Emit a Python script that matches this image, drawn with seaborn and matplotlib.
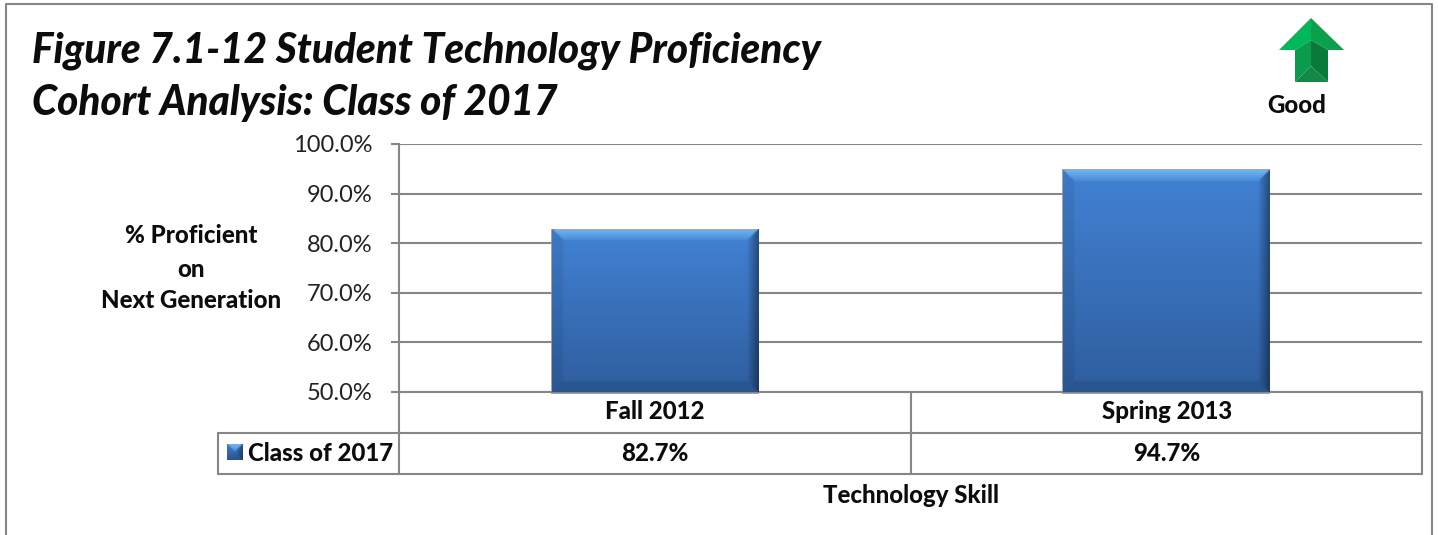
import numpy as np
import pandas as pd
import matplotlib
matplotlib.use("Agg")
import matplotlib.pyplot as plt
from matplotlib.patches import Polygon, Rectangle
import seaborn as sns

# Chart data
terms = ["Fall 2012", "Spring 2013"]
proficiency = [82.7, 94.7]
series_name = "Class of 2017"
y_ticks = [50, 60, 70, 80, 90, 100]
title_lines = ["Figure 7.1-12 Student Technology Proficiency", "Cohort Analysis: Class of 2017"]
y_label_lines = ["% Proficient", "on", "Next Generation"]
x_label = "Technology Skill"
badge_label = "Good"

W, H = 1438, 535
GRAY = "#868686"
INK = "#0c0c0c"
LABEL_SIZE = 17.3
sns.set_theme(style="white")
plt.rcParams["font.family"] = ["Lato", "DejaVu Sans"]

fig = plt.figure(figsize=(W / 100, H / 100), dpi=100, facecolor="white")

# Overlay in pixel coordinates for the frame, the data table and the badge
page = fig.add_axes([0, 0, 1, 1], zorder=3)
page.set_xlim(0, W)
page.set_ylim(H, 0)
page.axis("off")
page.patch.set_alpha(0)

L, R, T, B = 399, 1422, 144, 392
ax = fig.add_axes([L / W, 1 - B / H, (R - L) / W, (B - T) / H], zorder=2)

df = pd.DataFrame({"term": terms, "value": proficiency})
sns.barplot(data=df, x="term", y="value", ax=ax, width=0.403, color="#3f7bc8",
            saturation=1, zorder=3, edgecolor="none")
ax.set_xlim(-0.5, 1.5)
ax.set_ylim(50, 100)
ax.set_xlabel("")
ax.set_ylabel("")
ax.set_xticks([])
ax.set_yticks(y_ticks)
ax.set_yticklabels([f"{t:.1f}%" for t in y_ticks], fontsize=17, color="#222222")
ax.tick_params(axis="y", length=6, width=1.5, color=GRAY, pad=13, left=True)
ax.grid(axis="y", color=GRAY, lw=1.5, zorder=0)
ax.set_axisbelow(True)
for s in ["top", "right"]:
    ax.spines[s].set_visible(False)
for s in ["left", "bottom"]:
    ax.spines[s].set_color(GRAY)
    ax.spines[s].set_linewidth(1.5)


def soften(img, n=1):
    """Box-blur an RGB array a few times along both axes."""
    out = img.copy()
    kernel = np.array([0.25, 0.5, 0.25])
    for _ in range(n):
        for axis in (0, 1):
            out = np.apply_along_axis(
                lambda v: np.convolve(np.pad(v, 1, mode="edge"), kernel, mode="valid"), axis, out)
    return out


def bevel_image(h, w, b=11):
    """Pixel array of a bevelled blue block, h by w pixels with a b pixel rim."""
    yy, xx = np.mgrid[0:h, 0:w]
    t = (yy / max(h - 1, 1))[..., None]
    top_c, bot_c = np.array([66, 130, 212.]), np.array([46, 94, 158.])
    img = top_c * (1 - t) + bot_c * t
    dl, dr, dt, db = xx, w - 1 - xx, yy, h - 1 - yy
    dist = np.minimum.reduce([dl, dr, dt, db])
    rim = dist < b
    left = rim & (dl == dist)
    img[left] = img[left] * 0.93
    right = rim & (dr == dist)
    shade = 0.6 + 0.38 * (dr / b)
    img[right] = (img * shade[..., None])[right]
    bottom = rim & (db == dist) & ~right & ~left
    img[bottom] = img[bottom] * 0.9
    top = rim & (dt == dist) & ~left & ~right
    pale, deep = np.array([112, 180, 244.]), np.array([70, 136, 216.])
    img[top] = (pale + (deep - pale) * np.clip(dt / b, 0, 1)[..., None])[top]
    return np.clip(soften(img), 0, 255).astype(np.uint8)


# Give each bar its bevelled face and a soft drop shadow
for bar in list(ax.patches):
    x0, y0, bw, bh = bar.get_x(), bar.get_y(), bar.get_width(), bar.get_height()
    y0, y1 = 50, y0 + bh
    px_w = int(round(bw * (R - L) / 2))
    px_h = int(round((y1 - y0) * (B - T) / 50))
    ax.imshow(bevel_image(px_h, px_w), extent=(x0, x0 + bw, y0, y1), aspect="auto",
              zorder=4, interpolation="bilinear")
    dx = 1.0 * 2 / (R - L)
    dy = 1.0 * 50 / (B - T)
    ax.add_patch(Rectangle((x0 - dx, y0 - 2 * dy), bw + 2 * dx, y1 - y0 + 3 * dy, fc="#8f8f8f",
                           ec="none", alpha=0.8, zorder=2.5, clip_on=False))
ax.set_xlim(-0.5, 1.5)
ax.set_ylim(50, 100)

# Outer frame, open at the bottom
page.plot([5.5, 5.5, 1432, 1432], [H, 3.5, 3.5, H], color=GRAY, lw=1.5)

# Title
for line, y in zip(title_lines, [63, 115]):
    page.text(32, y, line, fontsize=29.2, fontweight="black", fontstyle="italic",
              color=INK, ha="left", va="baseline")

# Caption beside the value axis
for line, y in zip(y_label_lines, [243, 277, 308]):
    page.text(191, y, line, fontsize=LABEL_SIZE, fontweight="black", color=INK, ha="center", va="baseline")

# Data table
table_top, table_mid, table_bot, key_left, split = 392, 433, 474, 218, 911
page.plot([L, L], [table_top, table_bot], color=GRAY, lw=1.5)
page.plot([split, split], [table_top, table_bot], color=GRAY, lw=1.5)
page.plot([R, R], [table_top, table_bot], color=GRAY, lw=1.5)
page.plot([key_left, R], [table_mid, table_mid], color=GRAY, lw=1.5)
page.plot([key_left, R], [table_bot, table_bot], color=GRAY, lw=1.5)
page.plot([key_left, key_left], [table_mid, table_bot], color=GRAY, lw=1.5)

centers = [655, 1167]
for c, term, val in zip(centers, terms, proficiency):
    page.text(c, 419, term, fontsize=LABEL_SIZE, fontweight="black", color=INK, ha="center", va="baseline")
    page.text(c, 461, f"{val:.1f}%", fontsize=LABEL_SIZE, fontweight="black", color=INK, ha="center", va="baseline")
page.text(248, 461, series_name, fontsize=LABEL_SIZE, fontweight="black", color=INK, ha="left", va="baseline")
page.imshow(bevel_image(16, 16, b=8), extent=(227, 243, 460, 444), aspect="auto", zorder=4)
page.set_xlim(0, W)
page.set_ylim(H, 0)

page.text(911, 503, x_label, fontsize=LABEL_SIZE, fontweight="black", color=INK, ha="center", va="baseline")

# Green "good direction" arrow
facets = [
    ([(1311, 18), (1279, 50), (1295, 50), (1311, 40)], "#00b85a"),
    ([(1311, 18), (1344, 50), (1328, 50), (1311, 40)], "#0aa04c"),
    ([(1295, 50), (1311, 40), (1311, 66), (1295, 82)], "#0a9c4c"),
    ([(1311, 40), (1328, 50), (1328, 82), (1311, 66)], "#0a7a3a"),
    ([(1295, 82), (1311, 66), (1328, 82)], "#128a45"),
]
for pts, col in facets:
    page.add_patch(Polygon(pts, closed=True, fc=col, ec="none"))
page.text(1297, 113, badge_label, fontsize=LABEL_SIZE, fontweight="black", color=INK, ha="center", va="baseline")

fig.savefig("out.png", dpi=100)
